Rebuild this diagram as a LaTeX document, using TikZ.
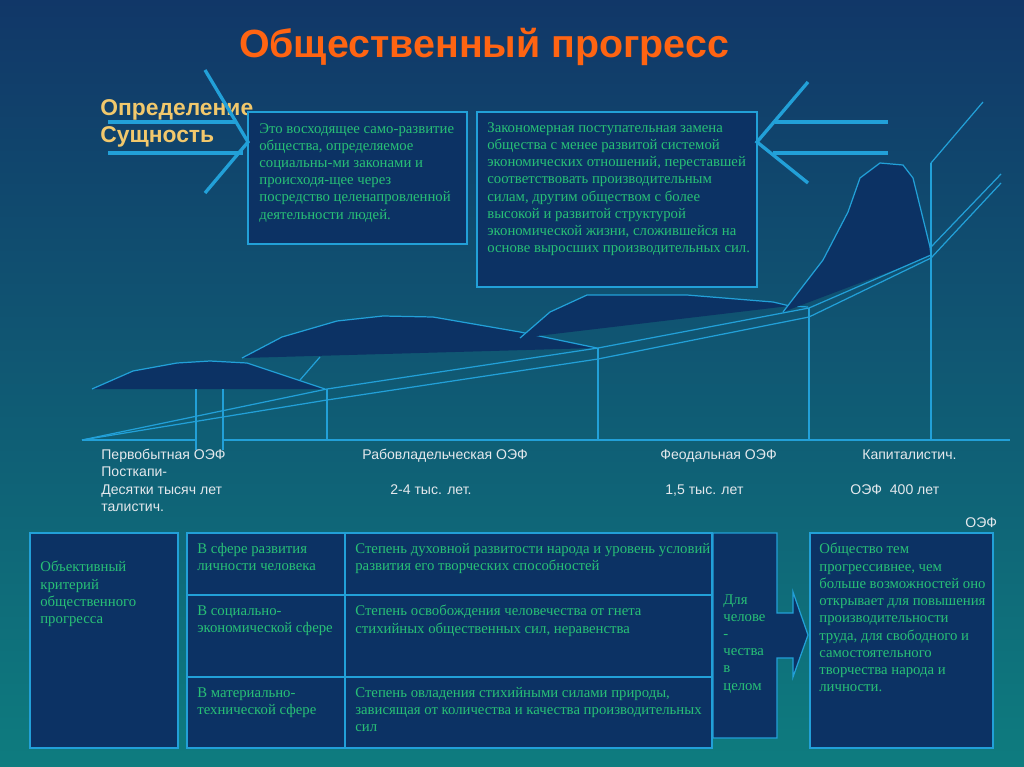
\documentclass[tikz,border=0pt]{standalone}
\usepackage{fontspec}
\setmainfont{Liberation Serif}
\setsansfont{Liberation Sans}

\definecolor{bgtop}{RGB}{17,55,104}
\definecolor{bgmid}{RGB}{11,92,116}
\definecolor{bgbot}{RGB}{14,124,127}
\definecolor{navy}{RGB}{12,50,100}
\definecolor{skyline}{RGB}{34,160,216}
\definecolor{leafgreen}{RGB}{40,192,118}
\definecolor{flame}{RGB}{255,100,18}
\definecolor{sand}{RGB}{242,200,108}
\definecolor{pale}{RGB}{228,232,236}

\begin{document}
\begin{tikzpicture}[x = 0.02cm, y = -0.02cm,
  panel/.style = {draw = skyline, fill = navy, line width = 0.7pt},
  hill/.style = {fill = navy},
  rim/.style = {draw = skyline, line width = 0.7pt},
  chevron/.style = {draw = skyline, line width = 1.9pt},
  body/.style = {text = leafgreen, font = \fontsize{8.4}{9.8}\selectfont, align = left, anchor = north west, inner sep = 0pt, execute at begin node = \strut},
  era/.style = {text = pale, font = \sffamily\fontsize{8}{9.6}\selectfont, anchor = base west, inner sep = 0pt},
  head/.style = {text = sand, font = \sffamily\bfseries\fontsize{13}{15}\selectfont, anchor = base west, inner sep = 0pt}]
\shade[top color = bgtop, middle color = bgmid, bottom color = bgbot] (0,0) rectangle (1024,767);
\useasboundingbox (0,0) rectangle (1024,767);

\node[text = flame, font = \sffamily\bfseries\fontsize{22.4}{26}\selectfont, anchor = base] (title) at (484,58) {Общественный прогресс};
\node[head] (defword) at (100,115) {Определение};
\node[head] (coreword) at (100,142) {Сущность};

\draw[panel] (248,112) rectangle (467,244);
\draw[panel] (477,112) rectangle (757,287);
\draw[chevron] (205,70) -- (248,142) -- (205,193);
\draw[chevron] (108,122) -- (236,122);
\draw[chevron] (108,153) -- (243,153);
\draw[chevron] (808,82) -- (757,142) -- (808,183);
\draw[chevron] (775,122) -- (888,122);
\draw[chevron] (773,153) -- (888,153);

\node[body] (meaning) at (259,123) {Это восходящее само-развитие\\общества, определяемое\\социальны-ми законами и\\происходя-щее через\\посредство целенапровленной\\деятельности людей.};
\node[body] (essence) at (487,122) {Закономерная поступательная замена\\общества с менее развитой системой\\экономических отношений, переставшей\\соответствовать производительным\\силам, другим обществом с более\\высокой и развитой структурой\\экономической жизни, сложившейся на\\основе выросших производительных сил.};

\fill[hill] (92,389) -- (133,371) -- (177,363) -- (210,361) -- (247,363) -- (325,389) -- cycle;
\draw[rim] (92,389) -- (133,371) -- (177,363) -- (210,361) -- (247,363) -- (325,389);
\fill[hill] (242,358) -- (282,337) -- (337,321) -- (383,316) -- (433,317) -- (520,332) -- (597,348) -- cycle;
\draw[rim] (242,358) -- (282,337) -- (337,321) -- (383,316) -- (433,317) -- (520,332) -- (597,348);
\fill[hill] (520,338) -- (550,312) -- (587,295) -- (687,295) -- (773,302) -- (790,306) -- (806,304) -- cycle;
\draw[rim] (520,338) -- (550,312) -- (587,295) -- (687,295) -- (773,302) -- (790,306) -- (808,307);
\fill[hill] (783,312) -- (823,260) -- (848,212) -- (860,178) -- (880,163) -- (903,165) -- (913,178) -- (930,247) -- (931,256) -- cycle;
\draw[rim] (783,312) -- (823,260) -- (848,212) -- (860,178) -- (880,163) -- (903,165) -- (913,178) -- (930,247) -- (931,256);

\draw[rim] (82,440) -- (196,440) (223,440) -- (1010,440);
\draw[rim] (82,440) -- (327,389) -- (598,348) -- (809,308) -- (931,255);
\draw[rim] (931,247) -- (1001,174);
\draw[rim] (82,440) -- (327,400) -- (598,359) -- (809,317) -- (931,258) -- (1001,183);
\foreach \xx/\ya/\yb in {196/389/450, 223/389/450, 327/389/440, 598/348/440, 809/308/440, 931/163/440}
  \draw[rim] (\xx,\ya) -- (\xx,\yb);
\draw[rim] (931,163) -- (983,102);
\draw[rim] (300,380) -- (320,357);

\node[era] (primitive) at (101,459) {Первобытная ОЭФ};
\node[era] (slavery) at (362,459) {Рабовладельческая ОЭФ};
\node[era] (feudal) at (660,459) {Феодальная ОЭФ};
\node[era] (capital) at (862,459) {Капиталистич.};
\node[era] (postcap) at (101,476) {Посткапи-};
\node[era] (primspan) at (101,494) {Десятки тысяч лет};
\node[era] (slavespan) at (390,494) {2-4 тыс. лет.};
\node[era] (feudspan) at (665,494) {1,5 тыс. лет};
\node[era] (capspan) at (850,494) {ОЭФ~~400 лет};
\node[era] (postcaptail) at (101,511) {талистич.};
\node[era] (postoef) at (965,527) {ОЭФ};

\draw[panel] (30,533) rectangle (178,748);
\draw[panel] (187,533) rectangle (712,748);
\draw[rim] (345,533) -- (345,748) (187,595) -- (712,595) (187,677) -- (712,677);
\draw[panel] (713,533) -- (777,533) -- (777,613) -- (793,613) -- (793,592) -- (808,635) -- (793,677) -- (793,658) -- (777,658) -- (777,738) -- (713,738) -- cycle;
\draw[panel] (810,533) rectangle (993,748);

\node[body] (criterion) at (40,561) {Объективный\\критерий\\общественного\\прогресса};
\node[body] (personal) at (197,543) {В сфере развития\\личности человека};
\node[body] (social) at (197,605) {В социально-\\экономической сфере};
\node[body] (material) at (197,687) {В материально-\\технической сфере};
\node[body] (spirit) at (355,543) {Степень духовной развитости народа и уровень условий\\развития его творческих способностей};
\node[body] (freedom) at (355,605) {Степень освобождения человечества от гнета\\стихийных общественных сил, неравенства};
\node[body] (mastery) at (355,687) {Степень овладения стихийными силами природы,\\зависящая от количества и качества производительных\\сил};
\node[body] (mankind) at (723,594) {Для\\челове\\-\\чества\\в\\целом};
\node[body] (verdict) at (819,543) {Общество тем\\прогрессивнее, чем\\больше возможностей оно\\открывает для повышения\\производительности\\труда, для свободного и\\самостоятельного\\творчества народа и\\личности.};
\end{tikzpicture}
\end{document}
